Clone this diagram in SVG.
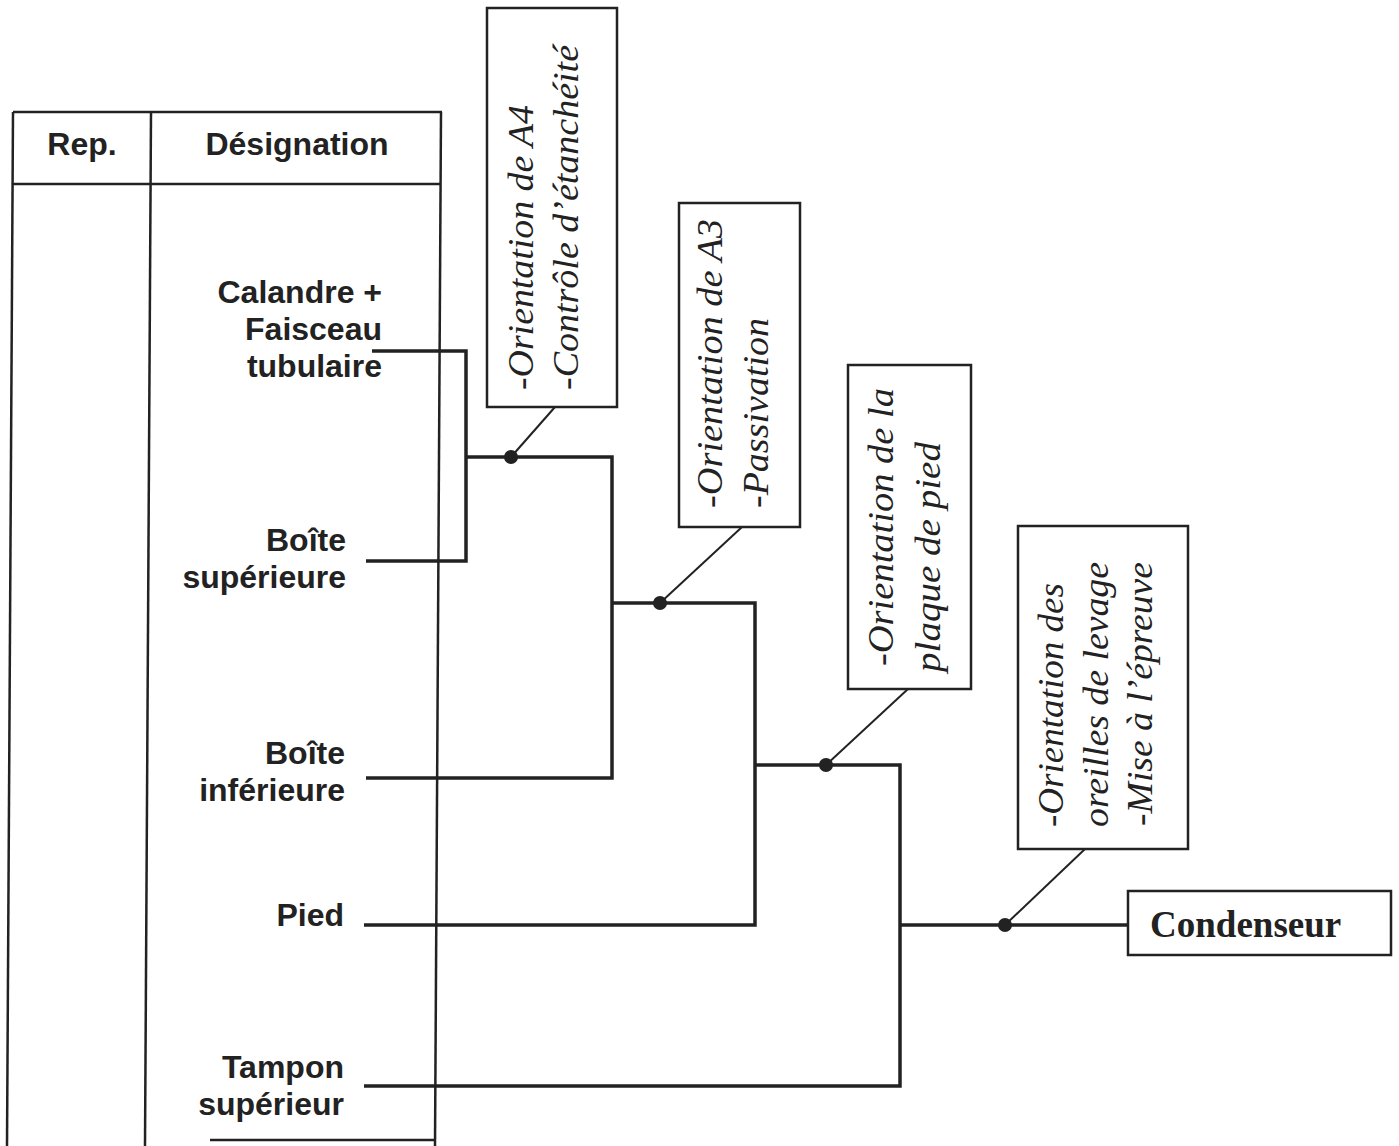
<svg xmlns="http://www.w3.org/2000/svg" width="1399" height="1146" viewBox="0 0 1399 1146">
<style>
.tbl{fill:none;stroke:#222;stroke-width:2.5}
.box{fill:#fff;stroke:#222;stroke-width:2.5}
.c{fill:none;stroke:#222;stroke-width:3.5}
.lead{fill:none;stroke:#222;stroke-width:2}
.lbl{font-family:"Liberation Sans",Arial,sans-serif;font-weight:bold;font-size:32px;fill:#222;text-anchor:end}
.hdr{font-family:"Liberation Sans",Arial,sans-serif;font-weight:bold;font-size:32px;fill:#222;text-anchor:middle}
.op{font-family:"Liberation Serif","Times New Roman",serif;font-style:italic;font-size:35px;fill:#222}
.fin{font-family:"Liberation Serif","Times New Roman",serif;font-weight:bold;font-size:37px;fill:#222}
</style>
<rect width="1399" height="1146" fill="#fff"/>
<g id="table">
<line class="tbl" x1="13" y1="112" x2="442" y2="112"/>
<line class="tbl" x1="13" y1="184" x2="441" y2="184"/>
<line class="tbl" x1="13" y1="112" x2="7" y2="1146"/>
<line class="tbl" x1="151" y1="112" x2="145" y2="1146"/>
<line class="tbl" x1="441" y1="112" x2="435" y2="1146"/>
<line class="tbl" x1="210" y1="1140" x2="435" y2="1140"/>
<text class="hdr" x="82" y="155">Rep.</text>
<text class="hdr" x="297" y="155">Désignation</text>
</g>
<g id="connectors">
<polyline class="c" points="372,351 466,351 466,561 366,561"/>
<polyline class="c" points="466,457 612,457 612,778 366,778"/>
<polyline class="c" points="612,603 755,603 755,925 364,925"/>
<polyline class="c" points="755,765 900,765 900,1086 364,1086"/>
<polyline class="c" points="900,925 1128,925"/>
<line class="lead" x1="511" y1="457" x2="555" y2="407"/>
<line class="lead" x1="660" y1="603" x2="742" y2="527"/>
<line class="lead" x1="826" y1="765" x2="908" y2="689"/>
<line class="lead" x1="1005" y1="925" x2="1085" y2="849"/>
<circle cx="511" cy="457" r="7" fill="#222"/>
<circle cx="660" cy="603" r="7" fill="#222"/>
<circle cx="826" cy="765" r="7" fill="#222"/>
<circle cx="1005" cy="925" r="7" fill="#222"/>
</g>
<g id="n-calandre"><text class="lbl" x="382" y="303">Calandre +</text><text class="lbl" x="382" y="340">Faisceau</text><text class="lbl" x="382" y="377">tubulaire</text></g>
<g id="n-boite-sup"><text class="lbl" x="346" y="551">Boîte</text><text class="lbl" x="346" y="588">supérieure</text></g>
<g id="n-boite-inf"><text class="lbl" x="345" y="764">Boîte</text><text class="lbl" x="345" y="801">inférieure</text></g>
<g id="n-pied"><text class="lbl" x="344" y="926">Pied</text></g>
<g id="n-tampon"><text class="lbl" x="344" y="1078">Tampon</text><text class="lbl" x="344" y="1115">supérieur</text></g>
<g id="op-a4">
<rect class="box" x="487" y="8" width="130" height="399"/>
<text class="op" transform="translate(533,390) rotate(-90)" textLength="285" lengthAdjust="spacingAndGlyphs">-Orientation de A4</text>
<text class="op" transform="translate(578,390) rotate(-90)" textLength="345" lengthAdjust="spacingAndGlyphs">-Contrôle d’étanchéité</text>
</g>
<g id="op-a3">
<rect class="box" x="679" y="203" width="121" height="324"/>
<text class="op" transform="translate(722,508) rotate(-90)" textLength="289" lengthAdjust="spacingAndGlyphs">-Orientation de A3</text>
<text class="op" transform="translate(768,508) rotate(-90)" textLength="190" lengthAdjust="spacingAndGlyphs">-Passivation</text>
</g>
<g id="op-plaque">
<rect class="box" x="848" y="365" width="123" height="324"/>
<text class="op" transform="translate(893,666) rotate(-90)" textLength="278" lengthAdjust="spacingAndGlyphs">-Orientation de la</text>
<text class="op" transform="translate(940,672) rotate(-90)" textLength="230" lengthAdjust="spacingAndGlyphs">plaque de pied</text>
</g>
<g id="op-oreilles">
<rect class="box" x="1018" y="526" width="170" height="323"/>
<text class="op" transform="translate(1063,827) rotate(-90)" textLength="244" lengthAdjust="spacingAndGlyphs">-Orientation des</text>
<text class="op" transform="translate(1108,827) rotate(-90)" textLength="265" lengthAdjust="spacingAndGlyphs">oreilles de levage</text>
<text class="op" transform="translate(1152,826) rotate(-90)" textLength="264" lengthAdjust="spacingAndGlyphs">-Mise à l’épreuve</text>
</g>
<g id="n-condenseur">
<rect class="box" x="1128" y="891" width="263" height="64"/>
<text class="fin" x="1150" y="937">Condenseur</text>
</g>
</svg>
